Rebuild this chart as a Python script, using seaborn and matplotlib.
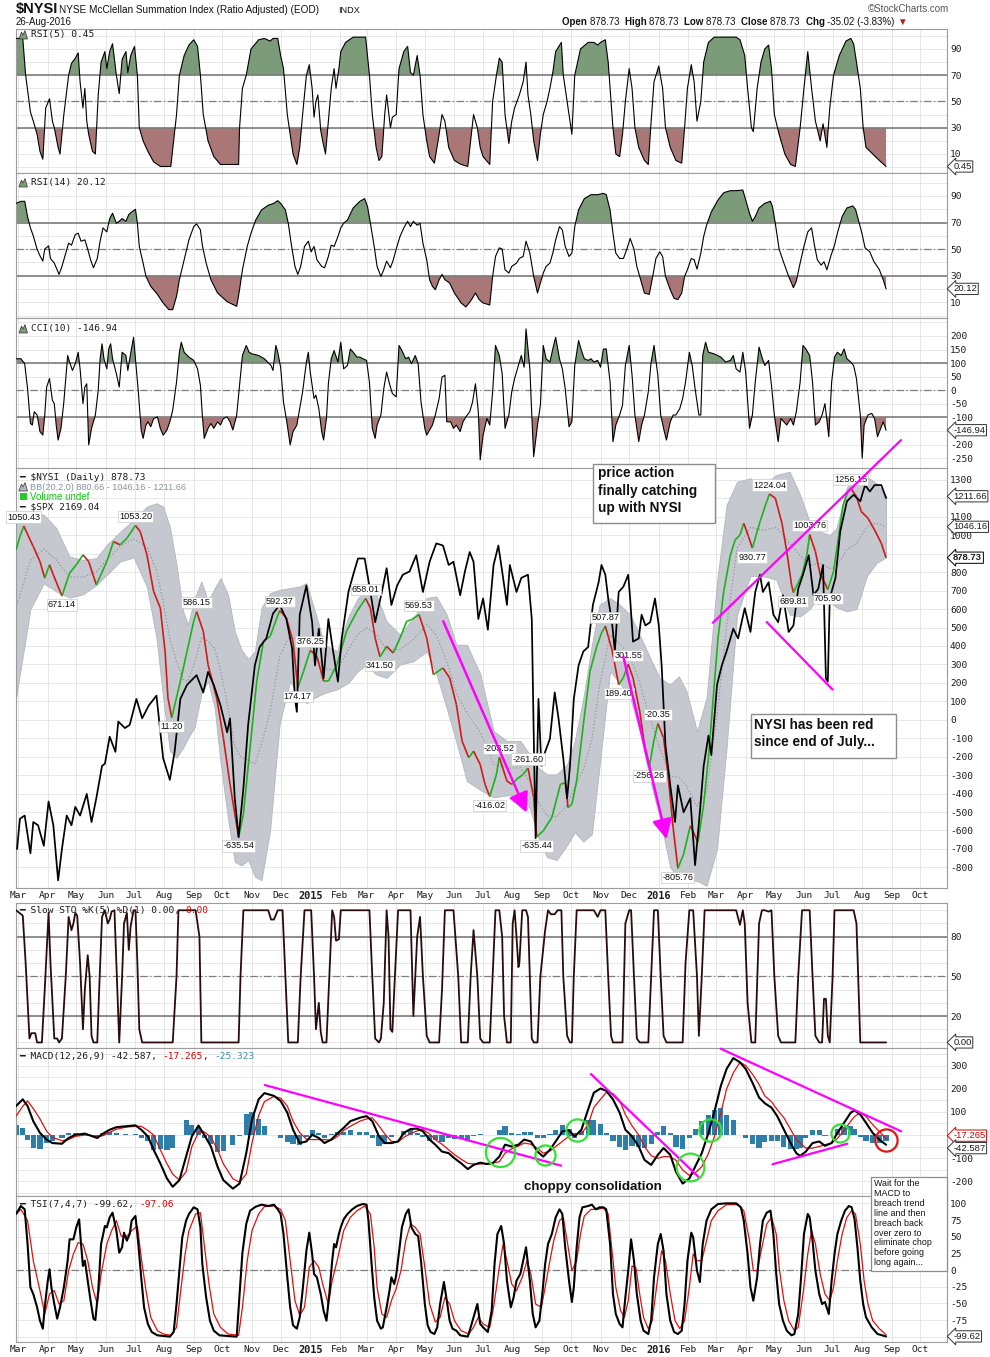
import numpy as np
import pandas as pd
import matplotlib
matplotlib.use("Agg")
import matplotlib.pyplot as plt
import matplotlib.dates as mdates
from matplotlib.collections import LineCollection
from matplotlib.patches import Rectangle, Polygon
import seaborn as sns

# ---------------------------------------------------------------
# DATA  (time = calendar days counted from 1 Mar 2014)
# ---------------------------------------------------------------
nysi_day = [-2, 2, 6, 16, 23, 28, 33, 37, 46, 54,
            61, 68, 74, 82, 86, 93, 100, 107, 114, 123,
            128, 135, 142, 149, 154, 157, 161, 170, 177, 184,
            187, 194, 199, 208, 215, 222, 231, 236, 243, 250,
            257, 264, 271, 274, 281, 288, 293, 299, 306, 313,
            320, 325, 334, 344, 355, 364, 369, 374, 379, 386,
            393, 400, 407, 412, 420, 428, 435, 445, 452, 459,
            465, 472, 477, 484, 489, 494, 501, 504, 512, 517,
            522, 529, 534, 540, 543, 550, 559, 568, 573, 576,
            580, 585, 592, 599, 606, 611, 615, 622, 629, 634,
            639, 644, 651, 657, 661, 666, 670, 676, 681, 686,
            691, 697, 704, 709, 712, 718, 723, 728, 733, 739,
            746, 751, 756, 760, 765, 769, 777, 784, 787, 793,
            800, 805, 810, 812, 821, 826, 829, 835, 840, 845,
            848, 854, 859, 864, 869, 872, 878, 883, 890, 897,
            904, 909]
nysi_val = [921, 993, 1050.43, 939, 858, 768, 840, 786, 671.14, 795,
            840, 894, 858, 732, 777, 858, 966, 948, 984, 1053.20,
            1020, 894, 696, 606, 371, 119, 11.20, 209, 371, 534,
            586.15, 480, 299, 119, -97, -350, -635.54, -512, -152, 209,
            425, 452, 552, 592.37, 552, 425, 174.17, 263, 376.25, 344,
            209, 209, 299, 480, 588, 658.01, 606, 443, 341.50, 398,
            362, 443, 534, 543, 569.53, 443, 245, 281, 227, 83,
            -115, -206, -170, -242, -350, -416.02, -296, -203.52, -332, -350,
            -323, -296, -261.60, -422, -635.44, -602, -530, -350, -341, -476,
            -458, -332, -25, 263, 398, 470, 507.87, 380, 189.40, 230,
            301.55, 227, 47, -170, -256.26, -110, -20.35, -97, -314, -584,
            -805.76, -728, -575, -629, -665, -458, -206, 119, 443, 696,
            894, 975, 1002, 1065, 993, 930.77, 1074, 1183, 1224.04, 1201,
            1065, 912, 732, 689.81, 786, 894, 1003.76, 912, 786, 741,
            705.90, 804, 984, 1165, 1237, 1256.15, 1210, 1129, 1093, 1029,
            957, 878.73]

# labelled NYSI extremes: 'a' = label above, 'b' = label below
lab_day = [6, 46, 123, 161, 187, 231, 274, 306, 293, 364, 379, 420, 494, 504,
           534, 543, 615, 639, 629, 670, 661, 691, 769, 787, 829, 812, 848, 872]
lab_val = [1050.43, 671.14, 1053.20, 11.20, 586.15, -635.54, 592.37, 376.25,
           174.17, 658.01, 341.50, 569.53, -416.02, -203.52, -261.60, -635.44,
           507.87, 301.55, 189.40, -20.35, -256.26, -805.76, 930.77, 1224.04,
           1003.76, 689.81, 705.90, 1256.15]
lab_pos = ['a', 'b', 'a', 'b', 'a', 'b', 'a', 'a', 'b', 'a', 'b', 'a', 'b', 'a',
           'a', 'b', 'a', 'a', 'b', 'a', 'b', 'b', 'b', 'a', 'a', 'b', 'b', 'a']

spx_day = [-1, 2, 7, 13, 16, 21, 27, 32, 37, 42,
           46, 51, 56, 60, 65, 72, 77, 82, 88, 91,
           96, 102, 105, 112, 117, 124, 130, 137, 145, 152,
           159, 164, 170, 177, 187, 194, 199, 205, 212, 219,
           222, 227, 231, 236, 241, 248, 253, 260, 267, 274,
           281, 287, 290, 292, 295, 302, 308, 311, 315, 320,
           325, 330, 335, 339, 346, 351, 356, 363, 369, 374,
           381, 386, 391, 397, 403, 410, 417, 424, 431, 438,
           445, 451, 456, 463, 468, 473, 477, 482, 487, 492,
           498, 503, 507, 512, 515, 522, 527, 534, 538, 540,
           542, 545, 548, 552, 557, 562, 566, 571, 575, 578,
           582, 587, 592, 597, 602, 608, 611, 615, 618, 622,
           625, 629, 634, 639, 641, 644, 650, 653, 657, 662,
           667, 671, 674, 678, 683, 688, 691, 697, 704, 709,
           714, 718, 723, 726, 732, 737, 742, 749, 754, 761,
           767, 772, 777, 780, 786, 791, 796, 801, 807, 812,
           817, 822, 828, 833, 838, 843, 846, 848, 850, 856,
           861, 868, 875, 882, 887, 892, 897, 904, 909]
spx_val = [1844, 1872, 1875, 1840, 1869, 1866, 1847, 1888, 1866, 1815,
           1844, 1875, 1866, 1883, 1875, 1895, 1869, 1891, 1921, 1923,
           1948, 1934, 1962, 1956, 1959, 1983, 1965, 1977, 1986, 1928,
           1908, 1934, 1983, 1996, 2005, 1989, 2008, 1996, 1977, 1952,
           1965, 1891, 1855, 1900, 1959, 2014, 2031, 2039, 2062, 2070,
           2057, 2030, 1983, 1971, 2061, 2088, 2054, 2014, 2048, 2002,
           2057, 2027, 1999, 2039, 2082, 2098, 2113, 2113, 2082, 2054,
           2082, 2104, 2070, 2088, 2098, 2101, 2116, 2082, 2110, 2127,
           2125, 2107, 2110, 2079, 2101, 2119, 2110, 2057, 2076, 2047,
           2107, 2125, 2101, 2070, 2107, 2082, 2095, 2098, 2057, 1952,
           1854, 1983, 1921, 1934, 1946, 1989, 1965, 1928, 1891, 1921,
           1983, 2014, 2027, 2031, 2070, 2091, 2107, 2098, 2076, 2054,
           2027, 2082, 2087, 2098, 2076, 2036, 2039, 2061, 2051, 2054,
           2076, 2051, 2014, 1940, 1903, 1869, 1903, 1878, 1891, 1829,
           1878, 1921, 1949, 1931, 1996, 2014, 2027, 2048, 2039, 2067,
           2045, 2082, 2098, 2082, 2091, 2061, 2054, 2079, 2045, 2051,
           2085, 2098, 2116, 2079, 2085, 2107, 2002, 1999, 2076, 2095,
           2138, 2166, 2172, 2166, 2181, 2175, 2181, 2181, 2169.04]

bb_day = [-2, 13, 27, 40, 54, 68, 82, 93, 107, 121,
          135, 145, 152, 159, 166, 173, 178, 185, 192, 199,
          206, 212, 220, 227, 234, 241, 248, 255, 264, 274,
          285, 295, 302, 311, 321, 334, 346, 356, 365, 375,
          386, 400, 414, 428, 438, 449, 459, 470, 484, 498,
          512, 526, 536, 545, 554, 564, 575, 583, 592, 601,
          609, 620, 630, 641, 651, 662, 672, 683, 692, 700,
          711, 721, 732, 742, 753, 767, 780, 794, 808, 819,
          829, 840, 850, 857, 868, 878, 889, 899, 909]
bb_upper = [1093, 1129, 1111, 1040, 885, 867, 876, 948, 1020, 1083,
            1156, 1174, 1156, 1047, 840, 588, 516, 660, 750, 642,
            714, 768, 678, 480, 380, 330, 371, 606, 687, 705,
            714, 723, 741, 588, 407, 371, 560, 660, 700, 680,
            534, 461, 552, 660, 669, 570, 407, 407, 250, -61,
            -115, -115, -188, -260, -296, -296, -242, -115, 119, 407,
            624, 660, 624, 570, 461, 335, 227, 191, 236, 155,
            -61, 119, 750, 1165, 1291, 1309, 1273, 1327, 1345, 1219,
            1074, 1020, 1002, 1038, 1260, 1309, 1318, 1282, 1211.66]
bb_lower = [119, 600, 740, 696, 662, 680, 730, 786, 858, 880,
            720, 443, 120, -170, -206, -150, -100, -40, 140, 210,
            60, -230, -540, -770, -790, -760, -850, -870, -600, -20,
            209, 119, 90, 120, 145, 165, 200, 265, 299, 245,
            227, 299, 317, 371, 250, 60, -120, -332, -380, -420,
            -410, -404, -480, -640, -745, -760, -680, -610, -660, -620,
            -250, 263, 200, 120, -60, -330, -530, -800, -860, -873,
            -873, -900, -700, -150, 570, 780, 780, 760, 570, 560,
            600, 680, 640, 610, 588, 600, 780, 850, 880.66]

rsi5_day = [-2, 5, 8, 13, 16, 20, 23, 26, 29, 33,
            36, 38, 42, 44, 48, 53, 56, 60, 63, 65,
            68, 70, 72, 74, 78, 81, 84, 87, 91, 93,
            96, 99, 103, 106, 109, 113, 115, 118, 122, 125,
            127, 131, 136, 142, 149, 160, 166, 169, 174, 179,
            184, 188, 191, 194, 199, 205, 212, 231, 232, 235,
            239, 244, 252, 258, 264, 267, 272, 275, 278, 282,
            285, 288, 292, 295, 298, 302, 305, 308, 310, 312,
            314, 317, 319, 322, 325, 328, 331, 333, 336, 338,
            343, 351, 364, 368, 371, 375, 378, 381, 384, 386,
            390, 392, 396, 399, 404, 408, 411, 414, 418, 421,
            424, 428, 431, 436, 441, 444, 447, 451, 457, 464,
            471, 474, 477, 481, 484, 487, 494, 497, 501, 504,
            507, 510, 514, 517, 520, 525, 529, 532, 534, 537,
            540, 544, 547, 550, 554, 557, 560, 563, 569, 571,
            575, 580, 583, 589, 597, 603, 607, 610, 615, 618,
            621, 623, 626, 630, 633, 636, 640, 643, 646, 650,
            656, 660, 663, 666, 671, 675, 678, 683, 689, 695,
            698, 701, 705, 708, 711, 715, 718, 723, 729, 752,
            756, 761, 764, 768, 770, 774, 778, 782, 786, 789,
            792, 797, 803, 809, 814, 819, 823, 827, 831, 835,
            840, 843, 847, 850, 854, 860, 867, 872, 875, 878,
            882, 885, 888, 895, 902, 909]
rsi5_val = [98, 98, 70, 42, 35, 25, 12, 6, 45, 52,
            35, 30, 15, 10, 40, 70, 79, 83, 87, 65,
            45, 60, 35, 25, 12, 10, 55, 80, 88, 75,
            88, 94, 70, 56, 82, 88, 72, 85, 92, 70,
            30, 20, 12, 4, 0.5, 0.5, 40, 70, 85, 93,
            97, 92, 70, 40, 20, 8, 2, 2, 30, 60,
            70, 90, 97, 98, 96, 98, 98, 85, 75, 40,
            25, 10, 2, 15, 40, 70, 78, 60, 38, 50,
            55, 28, 20, 10, 35, 60, 75, 60, 75, 88,
            95, 99, 99, 70, 40, 15, 5, 8, 40, 55,
            30, 38, 40, 75, 88, 92, 72, 70, 85, 70,
            40, 20, 8, 3, 25, 40, 35, 15, 5, 2,
            0.5, 20, 40, 30, 15, 8, 2, 50, 70, 83,
            80, 40, 18, 35, 45, 55, 65, 80, 55, 40,
            20, 5, 25, 40, 50, 60, 72, 88, 95, 70,
            50, 25, 70, 90, 95, 95, 93, 95, 97, 80,
            50, 30, 10, 8, 25, 50, 75, 60, 30, 15,
            5, 2, 35, 65, 77, 60, 30, 15, 5, 3,
            30, 60, 78, 65, 35, 50, 80, 95, 99, 99,
            97, 85, 60, 30, 27, 60, 80, 90, 93, 75,
            40, 25, 10, 2, 0.5, 30, 60, 88, 60, 35,
            20, 33, 15, 45, 70, 85, 96, 98, 94, 80,
            60, 30, 15, 10, 5, 0.45]

rsi14_day = [-2, 3, 7, 10, 13, 16, 20, 23, 26, 28,
             32, 34, 38, 43, 46, 50, 53, 56, 60, 63,
             66, 70, 73, 76, 79, 83, 86, 89, 93, 96,
             99, 103, 106, 109, 113, 116, 119, 123, 125, 127,
             131, 134, 139, 146, 152, 158, 162, 166, 169, 174,
             179, 184, 187, 191, 193, 197, 202, 209, 219, 229,
             232, 235, 240, 244, 249, 255, 262, 268, 272, 275,
             280, 283, 286, 290, 293, 296, 300, 304, 307, 310,
             313, 318, 321, 325, 328, 331, 335, 338, 341, 345,
             351, 358, 363, 366, 369, 373, 376, 380, 383, 386,
             390, 393, 396, 400, 404, 408, 411, 414, 418, 421,
             424, 428, 431, 434, 437, 441, 444, 447, 452, 457,
             464, 469, 474, 479, 483, 487, 494, 497, 500, 504,
             507, 510, 514, 517, 522, 525, 529, 532, 536, 540,
             544, 547, 550, 553, 557, 560, 563, 567, 570, 573,
             577, 580, 583, 587, 593, 600, 607, 613, 616, 620,
             623, 626, 630, 634, 638, 641, 645, 648, 652, 656,
             661, 664, 668, 672, 675, 678, 683, 687, 691, 695,
             698, 701, 705, 708, 711, 715, 718, 721, 726, 733,
             739, 746, 752, 759, 762, 766, 769, 772, 776, 782,
             788, 790, 793, 797, 802, 807, 812, 815, 819, 823,
             827, 831, 834, 837, 841, 844, 847, 851, 855, 858,
             863, 868, 874, 877, 880, 884, 887, 892, 896, 902,
             906, 909]
rsi14_val = [84.5, 86, 86, 74.5, 66, 60, 50, 45, 41, 50,
             52.5, 43, 39.5, 31, 37, 47, 54.5, 53, 61, 62,
             56, 57, 50, 42, 36, 43, 56, 66, 63, 73,
             77, 69.5, 71, 73, 71, 76, 78, 80, 69.5, 52,
             39.5, 29.5, 22, 16, 9.5, 4.5, 4.5, 14.5, 27, 42,
             57, 67, 69, 64.5, 53, 39.5, 27, 17, 10.5, 7,
             19.5, 34.5, 52, 62, 72, 79.5, 83, 84.5, 86.5, 84.5,
             79.5, 69.5, 54.5, 37, 31, 37, 52, 56, 48, 52,
             42, 37, 36, 44.5, 53, 52, 59.5, 66, 69.5, 72,
             81, 86, 88, 82, 69.5, 52, 37, 29.5, 34.5, 41,
             36, 42, 50, 59.5, 66, 71, 67, 71, 68, 69.5,
             54.5, 42, 27, 22, 19.5, 27, 31, 27, 24.5, 17,
             9.5, 6.5, 11, 17, 12, 9.5, 8, 29.5, 44.5, 51,
             50, 34.5, 32, 37, 39.5, 43, 44.5, 56, 47, 29.5,
             17, 24.5, 32, 37, 39.5, 47, 57, 67, 64.5, 52,
             44.5, 47, 67, 79.5, 88, 91, 91, 92, 91, 79.5,
             62, 47, 43, 43, 51, 58, 50, 37, 27, 17,
             16, 27, 43, 48, 44.5, 29.5, 19.5, 13, 12, 17,
             29.5, 34.5, 43, 42, 35, 47, 59.5, 68, 78, 87,
             92.5, 94, 94, 94.5, 87, 77, 71, 74.5, 81, 84.5,
             86, 82, 69.5, 50, 39.5, 29.5, 21, 26, 39.5, 52,
             63, 66, 53, 42, 38, 40.5, 34.5, 44.5, 53, 62,
             74.5, 81, 82.5, 80, 72, 61, 51, 48, 41, 34.5,
             27, 20.12]

cci_day = [-2, 3, 7, 10, 13, 15, 17, 20, 23, 26,
           28, 30, 33, 36, 38, 40, 42, 45, 48, 52,
           54, 57, 60, 63, 65, 68, 70, 72, 74, 77,
           79, 81, 84, 86, 88, 90, 93, 95, 97, 99,
           103, 106, 109, 113, 115, 117, 120, 121, 123, 126,
           129, 131, 134, 136, 139, 142, 146, 149, 152, 156,
           159, 162, 166, 169, 171, 174, 179, 184, 188, 191,
           193, 195, 199, 202, 205, 209, 212, 215, 219, 222,
           225, 229, 232, 235, 239, 242, 245, 252, 258, 265,
           267, 270, 272, 275, 278, 282, 285, 288, 292, 295,
           298, 302, 304, 306, 310, 312, 315, 318, 320, 323,
           325, 328, 331, 335, 338, 341, 345, 348, 351, 355,
           358, 361, 365, 368, 371, 374, 376, 380, 383, 386,
           389, 392, 396, 399, 402, 406, 409, 412, 416, 419,
           422, 426, 428, 431, 434, 437, 441, 444, 447, 449,
           453, 456, 459, 463, 466, 469, 473, 476, 479, 482,
           484, 487, 491, 494, 497, 500, 504, 507, 510, 514,
           517, 520, 524, 527, 530, 532, 536, 538, 540, 544,
           547, 550, 553, 557, 560, 563, 567, 570, 573, 577,
           580, 583, 587, 590, 593, 597, 600, 603, 607, 610,
           613, 616, 620, 623, 626, 630, 633, 636, 640, 643,
           646, 650, 653, 656, 660, 663, 666, 670, 673, 676,
           679, 683, 686, 689, 693, 696, 699, 703, 706, 709,
           713, 715, 717, 720, 723, 729, 736, 741, 746, 749,
           752, 756, 759, 762, 766, 769, 772, 776, 779, 782,
           786, 789, 792, 796, 799, 802, 805, 809, 812, 815,
           819, 822, 825, 829, 832, 835, 839, 842, 845, 849,
           852, 855, 858, 862, 865, 868, 872, 875, 878, 882,
           884, 886, 890, 894, 897, 900, 904, 906, 909]
cci_val = [116, 116, 98, 6, -122, -128, -79, -91, -152, -165,
           -91, 12, 43, -37, -49, -128, -183, -140, -43, 128,
           104, 73, 98, 140, 79, -49, 12, 24, -201, -140,
           -116, -91, 0, 116, 171, 116, 79, 152, 171, 116,
           61, 12, 140, 128, 73, 116, 177, 195, 116, -6,
           -146, -177, -128, -116, -134, -104, -98, -140, -165, -146,
           -116, -73, 30, 140, 177, 140, 122, 110, 79, 18,
           -91, -177, -140, -122, -140, -116, -128, -104, -98, -116,
           -146, -91, 18, 128, 165, 140, 134, 128, 116, 91,
           73, 165, 140, 85, -43, -128, -201, -152, -128, -67,
           -6, 104, 140, 67, -30, -18, -67, -152, -183, -104,
           24, 116, 146, 104, 177, 79, 91, 152, 140, 122,
           122, 116, 110, 30, -140, -177, -128, -91, 6, 67,
           24, -12, -24, 165, 146, 116, 122, 98, 128, 98,
           -43, -140, -165, -146, -128, -91, -30, 49, 55, -116,
           -116, -140, -128, -152, -116, -98, -79, -43, 24, -79,
           -256, -165, -104, -128, -6, 165, 128, 61, -140, -91,
           -6, 43, 91, 128, 85, 226, 79, -91, -244, -128,
           -55, 165, 116, 104, 152, 195, 116, 79, 6, -134,
           -116, 91, 183, 146, 116, 110, 116, 104, 110, 85,
           152, 152, 30, -189, -128, -91, -55, 91, 165, 55,
           -91, -189, -128, -91, -6, 104, 165, 55, -91, -140,
           -183, -116, -91, -91, -67, -30, 30, 140, 91, 6,
           -91, -91, 128, 177, 140, 134, 122, 104, 110, 128,
           79, 67, 140, 67, -140, -91, 30, 159, 122, 91,
           110, 18, -91, -189, -104, -116, -128, -104, -128, -79,
           30, 165, 152, 128, 30, -128, -116, -91, -49, -171,
           30, 122, 140, 128, 152, 116, 104, 91, 43, -91,
           -250, -128, -91, -85, -104, -171, -134, -116, -146.94]

sto_day = [-2, 5, 8, 12, 14, 18, 20, 25, 28, 32,
           34, 38, 41, 43, 46, 50, 53, 56, 58, 60,
           62, 65, 68, 70, 73, 75, 77, 79, 83, 85,
           88, 91, 94, 96, 98, 101, 103, 106, 109, 111,
           114, 116, 118, 121, 123, 125, 127, 130, 162, 166,
           168, 186, 190, 192, 231, 233, 236, 262, 265, 268,
           272, 277, 280, 283, 293, 296, 300, 307, 310, 312,
           315, 317, 319, 323, 326, 329, 331, 333, 336, 338,
           368, 371, 374, 378, 380, 383, 386, 388, 390, 392,
           394, 398, 411, 414, 418, 421, 424, 428, 431, 441,
           444, 447, 456, 461, 464, 471, 474, 477, 481, 484,
           487, 494, 497, 500, 504, 507, 509, 512, 516, 518,
           520, 522, 524, 525, 528, 532, 534, 536, 538, 540,
           544, 547, 552, 555, 558, 562, 565, 569, 571, 575,
           578, 580, 582, 585, 603, 607, 610, 615, 618, 621,
           623, 633, 636, 640, 642, 645, 648, 651, 660, 663,
           666, 670, 673, 676, 679, 696, 699, 703, 707, 711,
           713, 716, 719, 752, 756, 759, 761, 764, 768, 772,
           776, 779, 782, 786, 789, 792, 796, 799, 814, 817,
           821, 829, 832, 835, 839, 842, 844, 846, 848, 850,
           853, 855, 875, 878, 882, 909]
sto_val = [100, 96, 60, 3, 7, 7, 0, 0, 40, 98,
           60, 3, 3, 0, 3, 50, 95, 85, 90, 98,
           96, 60, 10, 40, 66, 50, 5, 0, 0, 40,
           95, 100, 90, 93, 99, 100, 60, 0, 50, 90,
           98, 70, 88, 100, 100, 60, 10, 0, 0, 50,
           100, 100, 80, 0, 0, 50, 100, 100, 93, 93,
           100, 100, 50, 0, 0, 50, 100, 100, 50, 10,
           30, 8, 0, 0, 50, 100, 95, 77, 78, 100,
           100, 50, 3, 0, 3, 30, 100, 80, 10, 8,
           40, 100, 100, 20, 80, 95, 50, 5, 0, 0,
           40, 100, 100, 50, 0, 0, 50, 85, 50, 3,
           0, 0, 50, 100, 100, 80, 20, 0, 0, 90,
           100, 80, 57, 60, 100, 100, 95, 50, 3, 0,
           0, 50, 85, 100, 97, 97, 100, 100, 50, 5,
           0, 0, 50, 100, 100, 95, 100, 100, 50, 5,
           0, 0, 90, 100, 100, 50, 3, 0, 0, 50,
           100, 100, 50, 5, 0, 0, 60, 100, 100, 50,
           5, 50, 100, 100, 89, 100, 90, 30, 0, 0,
           90, 100, 100, 99, 100, 50, 5, 0, 0, 50,
           100, 100, 50, 5, 0, 0, 33, 33, 5, 0,
           50, 100, 100, 90, 0, 0]

macd_day = [-2, 5, 10, 16, 23, 30, 36, 46, 53, 60,
            70, 76, 83, 89, 96, 103, 113, 123, 129, 136,
            142, 149, 156, 162, 169, 176, 182, 189, 195, 202,
            209, 215, 225, 232, 239, 245, 252, 258, 268, 275,
            282, 288, 295, 302, 308, 315, 321, 328, 335, 341,
            348, 358, 365, 371, 378, 384, 391, 398, 404, 411,
            418, 424, 431, 437, 444, 451, 457, 464, 471, 477,
            484, 491, 497, 504, 510, 517, 524, 530, 537, 544,
            550, 557, 563, 570, 577, 583, 590, 597, 603, 610,
            616, 623, 630, 636, 643, 650, 656, 663, 670, 676,
            683, 689, 696, 703, 709, 716, 723, 729, 736, 742,
            749, 756, 762, 769, 776, 782, 789, 795, 802, 809,
            815, 819, 825, 832, 839, 845, 852, 858, 865, 872,
            876, 882, 888, 895, 902, 909]
macd_val = [126, 155, 126, 60, 9, -20, -35, -38, -13, 1,
            6, -3, -13, 6, 23, 34, 38, 42, 23, -6,
            -64, -123, -189, -225, -196, -94, -6, 41, 1, -50,
            -138, -196, -233, -211, -79, 67, 155, 182, 170, 148,
            97, 23, -35, -28, 1, -13, -35, -20, 9, 31,
            60, 75, 82, 60, -6, -35, -35, -28, 9, 26,
            28, 16, -20, -42, -72, -79, -101, -123, -148, -130,
            -120, -126, -123, -94, -42, -50, -42, -20, -28, -72,
            -94, -64, -28, 16, 20, -6, 23, 111, 184, 202,
            192, 155, 97, 23, -6, -50, -108, -130, -86, -57,
            -86, -160, -211, -189, -138, -79, 9, 97, 214, 287,
            334, 316, 287, 228, 163, 138, 119, 82, 23, -35,
            -79, -91, -72, -35, -28, -47, -35, 9, 53, 97,
            107, 89, 53, 9, -20, -42.587]
macd_sig = [82, 125, 148, 115, 70, 16, -10, -25, -20, -6,
            0, -2, -5, -3, 12, 25, 34, 38, 38, 20,
            0, -64, -125, -170, -196, -160, -50, 10, 14, -10,
            -64, -125, -190, -205, -170, -35, 85, 145, 168, 160,
            126, 60, 10, -18, -20, -20, -20, -23, -5, 20,
            38, 60, 70, 75, 40, 5, -28, -30, -10, 6,
            18, 23, 5, -20, -40, -64, -85, -105, -123, -126,
            -126, -124, -122, -116, -79, -60, -48, -35, -40, -58,
            -79, -70, -50, -28, -5, 6, 6, 45, 120, 155,
            185, 180, 150, 89, 40, 0, -50, -90, -101, -94,
            -94, -110, -152, -175, -165, -138, -80, -10, 97, 200,
            270, 316, 302, 265, 220, 170, 145, 110, 75, 25,
            -20, -35, -57, -57, -50, -42, -35, -15, 20, 60,
            80, 97, 80, 45, 15, -17.265]

tsi_day = [-2, 3, 7, 10, 13, 16, 20, 23, 26, 28,
           31, 33, 35, 38, 41, 44, 48, 52, 54, 58,
           61, 64, 66, 68, 70, 73, 76, 79, 81, 84,
           87, 91, 93, 96, 99, 103, 106, 109, 111, 114,
           117, 119, 123, 126, 129, 132, 136, 140, 146, 159,
           163, 166, 169, 172, 176, 179, 184, 188, 191, 193,
           197, 201, 205, 211, 229, 232, 235, 239, 243, 249,
           255, 262, 268, 272, 275, 278, 282, 285, 288, 292,
           295, 298, 302, 305, 308, 310, 313, 317, 320, 323,
           326, 329, 331, 333, 336, 338, 341, 345, 350, 355,
           361, 365, 367, 370, 373, 376, 380, 382, 386, 389,
           391, 394, 396, 400, 402, 406, 409, 412, 416, 419,
           422, 426, 429, 432, 436, 439, 442, 446, 449, 452,
           455, 459, 463, 471, 474, 477, 481, 484, 487, 492,
           496, 499, 502, 506, 509, 512, 516, 519, 522, 526,
           529, 532, 536, 539, 542, 546, 549, 552, 555, 559,
           563, 567, 570, 573, 577, 580, 582, 585, 588, 591,
           597, 601, 605, 609, 613, 616, 620, 623, 626, 630,
           633, 636, 639, 642, 645, 648, 652, 655, 660, 663,
           666, 670, 673, 676, 679, 683, 687, 691, 695, 698,
           701, 705, 707, 711, 714, 717, 721, 726, 733, 742,
           752, 757, 760, 764, 767, 770, 774, 777, 780, 784,
           788, 791, 794, 797, 801, 805, 810, 813, 817, 820,
           823, 827, 829, 832, 835, 839, 842, 845, 849, 852,
           855, 858, 862, 866, 870, 873, 876, 879, 882, 885,
           888, 894, 900, 909]
tsi_val = [84, 96, 91, 39, -26, -36, -56, -76, -88, -56,
           -18, 1, -26, -51, -73, -56, -26, 14, 46, 46,
           64, 76, 39, 6, 14, -16, -46, -73, -75, -31,
           39, 66, 64, 79, 86, 59, 26, 34, 56, 44,
           54, 74, 81, 39, -11, -56, -81, -93, -98, -100,
           -93, -51, -1, 49, 74, 84, 94, 91, 64, 9,
           -41, -76, -91, -98, -100, -36, 26, 69, 89, 95,
           98, 96, 98, 91, 84, 54, -11, -56, -83, -88,
           -71, -31, 29, 56, 24, -6, -11, -36, -61, -76,
           -36, 14, 39, 34, 54, 64, 76, 84, 91, 96,
           99, 98, 74, 14, -41, -76, -88, -86, -56, -31,
           -11, -21, -8, 39, 64, 84, 91, 64, 54, 51,
           14, -51, -83, -93, -96, -86, -51, -18, -46, -76,
           -88, -91, -98, -100, -86, -71, -51, -81, -86, -93,
           -61, 9, 54, 66, 39, -16, -56, -41, -16, -6,
           14, 34, -16, -66, -86, -76, -36, 9, 39, 54,
           79, 91, 84, 34, -16, -48, -26, 34, 79, 94,
           96, 98, 91, 94, 94, 91, 39, -36, -66, -81,
           -86, -41, -1, 46, 14, -36, -76, -91, -96, -76,
           -11, 39, 54, 29, -36, -76, -93, -96, -91, -51,
           14, 56, 49, -1, -18, 39, 74, 91, 99, 100,
           100, 94, 74, 24, -26, -46, -11, 39, 74, 86,
           89, 54, -6, -51, -76, -91, -98, -96, -66, -11,
           54, 84, 79, 44, -1, -36, -51, -48, -66, -16,
           24, 54, 74, 89, 96, 94, 76, 34, -16, -51,
           -71, -86, -96, -99.62]

tsig_day = [-2, 3, 10, 16, 23, 28, 33, 38, 43, 48,
            53, 58, 63, 68, 73, 78, 83, 87, 93, 98,
            103, 108, 113, 119, 125, 129, 134, 139, 146, 152,
            160, 166, 170, 175, 179, 186, 191, 195, 200, 205,
            212, 220, 231, 235, 240, 245, 252, 258, 268, 275,
            280, 285, 290, 295, 300, 305, 310, 315, 319, 325,
            329, 335, 341, 348, 355, 363, 369, 373, 376, 381,
            386, 391, 396, 401, 406, 411, 416, 421, 426, 431,
            437, 442, 447, 452, 457, 464, 472, 477, 482, 487,
            494, 498, 504, 508, 512, 517, 522, 528, 533, 537,
            542, 548, 552, 557, 561, 567, 571, 575, 580, 585,
            589, 593, 600, 607, 613, 618, 622, 626, 631, 635,
            639, 643, 647, 651, 655, 660, 664, 670, 674, 678,
            683, 688, 693, 698, 703, 707, 711, 716, 721, 726,
            733, 742, 754, 760, 766, 770, 774, 779, 784, 789,
            794, 797, 802, 807, 813, 817, 822, 827, 831, 835,
            840, 845, 850, 854, 858, 863, 868, 873, 877, 882,
            886, 890, 895, 902, 909]
tsig_val = [84, 91, 74, 14, -31, -66, -36, -31, -51, -46,
            -1, 24, 41, 39, 14, -26, -51, -6, 39, 59,
            74, 51, 49, 59, 66, 19, -31, -71, -91, -96,
            -98, -86, -36, 24, 59, 84, 86, 39, -21, -66,
            -86, -96, -98, -56, 14, 59, 84, 95, 96, 91,
            74, 14, -46, -68, -56, 4, 14, 4, -21, -51,
            -16, 19, 59, 79, 89, 96, 84, 34, -26, -66,
            -71, -46, -28, -1, 44, 69, 64, 54, 4, -51,
            -78, -71, -41, -51, -76, -91, -96, -86, -71, -81,
            -86, -56, 4, 39, 14, -21, -31, -11, 14, -6,
            -51, -56, -26, 14, 44, 74, 79, 44, -1, 14,
            54, 81, 91, 91, 93, 84, 29, -26, -61, -71,
            -46, 6, 4, -36, -71, -88, -76, -11, 29, 14,
            -36, -76, -88, -76, -26, 24, 14, 14, 44, 74,
            89, 98, 98, 89, 44, -1, -1, 34, 69, 79,
            54, 4, -46, -76, -91, -86, -36, 24, 59, 39,
            -6, -36, -46, -26, 14, 54, 79, 89, 84, 39,
            -16, -51, -76, -88, -97.06]

for a, b in [(nysi_day, nysi_val), (spx_day, spx_val), (bb_day, bb_upper),
             (bb_day, bb_lower), (rsi5_day, rsi5_val), (rsi14_day, rsi14_val),
             (cci_day, cci_val), (sto_day, sto_val), (macd_day, macd_val),
             (macd_day, macd_sig), (tsi_day, tsi_val), (tsig_day, tsig_val),
             (lab_day, lab_val), (lab_day, lab_pos)]:
    assert len(a) == len(b), (len(a), len(b))

# ---------------------------------------------------------------
# STYLE
# ---------------------------------------------------------------
sns.set_theme(style="white")
MONO = ["DejaVu Sans Mono", "DejaVu Sans"]
SANS = ["Liberation Sans", "DejaVu Sans"]
plt.rcParams["font.family"] = MONO
plt.rcParams["axes.unicode_minus"] = False

W, H = 990, 1357
BASE = pd.Timestamp("2014-03-01")


def dt(days):
    return BASE + pd.to_timedelta(np.asarray(days, dtype=float), unit="D")


def dnum(d):
    return mdates.date2num(BASE + pd.to_timedelta(float(d), unit="D"))


XMIN, XMAX = dt([-2.1])[0], dt([972.8])[0]
months = pd.date_range("2014-03-01", "2016-10-01", freq="MS")
GRID = "#e3e3e3"
SPINE = "#9c9c9c"
TXT = "#1c1c1c"
GREEN_FILL = "#7b9b79"
RED_FILL = "#a97775"
REF = "#7d7d7d"
MAG = "#ff00ff"

fig = plt.figure(figsize=(W / 100, H / 100), dpi=100)
fig.patch.set_facecolor("white")


def panel(top, bottom):
    return fig.add_axes([16 / W, 1 - bottom / H, 931 / W, (bottom - top) / H])


def sline(ax, days, vals, color, lw, z=3):
    sns.lineplot(x=dt(days), y=np.asarray(vals, dtype=float), ax=ax, color=color,
                 linewidth=lw, estimator=None, sort=False, legend=False, zorder=z)


def finish(ax, ylim, ticks, grid, show_x=False):
    ax.set_xlim(XMIN, XMAX)
    ax.set_ylim(*ylim)
    for g in grid:
        ax.axhline(g, color=GRID, lw=0.6, zorder=0)
    for m in months:
        ax.axvline(m, color=GRID, lw=0.6, zorder=0)
    ax.yaxis.tick_right()
    ax.set_yticks(ticks)
    ax.set_yticklabels([str(t) for t in ticks])
    ax.tick_params(axis="y", length=0, pad=2.2, labelsize=6.8, labelcolor=TXT)
    ax.set_xticks(months)
    if show_x:
        ax.set_xticklabels([str(m.year) if m.month == 1 else m.strftime("%b") for m in months])
        ax.tick_params(axis="x", length=0, pad=2.0, labelsize=6.8, labelcolor=TXT)
        for lab in ax.get_xticklabels():
            if lab.get_text().isdigit():
                lab.set_fontweight("bold")
                lab.set_fontsize(7.4)
    else:
        ax.set_xticklabels([])
        ax.tick_params(axis="x", length=0)
    for s in ax.spines.values():
        s.set_color(SPINE)
        s.set_linewidth(0.8)
    ax.set_xlabel("")
    ax.set_ylabel("")


def tag(ax, v, text, color=TXT, bold=False, ec="#333333", dy=0.0):
    ax.annotate(text, xy=(1.0, v), xycoords=("axes fraction", "data"),
                xytext=(4.5, dy), textcoords="offset points", ha="left", va="center",
                fontsize=6.8, family=SANS, color=color,
                fontweight="bold" if bold else "normal",
                bbox=dict(boxstyle="larrow,pad=0.12", fc="white", ec=ec, lw=0.7),
                zorder=30, annotation_clip=False)


def osc(ax, days, vals, hi, lo, mid):
    x = dt(days)
    v = np.asarray(vals, dtype=float)
    ax.fill_between(x, v, hi, where=v >= hi, interpolate=True, color=GREEN_FILL, lw=0, zorder=1)
    ax.fill_between(x, v, lo, where=v <= lo, interpolate=True, color=RED_FILL, lw=0, zorder=1)
    ax.axhline(hi, color=REF, lw=1.2, zorder=1.5)
    ax.axhline(lo, color=REF, lw=1.2, zorder=1.5)
    ax.axhline(mid, color=REF, lw=0.9, ls=(0, (6, 2, 1, 2)), zorder=1.5)
    sline(ax, days, vals, "black", 0.8)


# ---------------- RSI(5) ----------------
ax_r5 = panel(29, 173)
osc(ax_r5, rsi5_day, rsi5_val, 70, 30, 50)
finish(ax_r5, (-4.5, 105.2), [10, 30, 50, 70, 90], range(0, 101, 10))
tag(ax_r5, 0.45, "0.45")

# ---------------- RSI(14) ----------------
ax_r14 = panel(173, 318)
osc(ax_r14, rsi14_day, rsi14_val, 70, 30, 50)
finish(ax_r14, (-1.8, 107.3), [10, 30, 50, 70, 90], range(0, 101, 10))
tag(ax_r14, 20.12, "20.12")

# ---------------- CCI(10) ----------------
ax_cci = panel(318, 468)
osc(ax_cci, cci_day, cci_val, 100, -100, 0)
finish(ax_cci, (-286, 266), [-250, -200, -100, -50, 0, 50, 100, 150, 200], range(-250, 251, 50))
tag(ax_cci, -146.94, "-146.94")

# ---------------- main price panel ----------------
ax_m = panel(468, 888)
bx = dt(bb_day)
up = np.asarray(bb_upper, dtype=float)
lo = np.asarray(bb_lower, dtype=float)
ax_m.fill_between(bx, lo, up, color="#c5c8ce", edgecolor="#b3b6bd", lw=0.6, zorder=1)
ax_m.plot(bx, (up + lo) / 2, color="#8f949c", lw=0.8, ls=(0, (1.2, 1.8)), zorder=2)

xn = np.array([dnum(d) for d in nysi_day])
yv = np.asarray(nysi_val, dtype=float)
segs = np.stack([np.column_stack([xn[:-1], yv[:-1]]), np.column_stack([xn[1:], yv[1:]])], axis=1)
cols = np.where(np.diff(yv) >= 0, "#1db21d", "#cf1b1b")
ax_m.add_collection(LineCollection(segs, colors=cols, linewidths=1.2, zorder=3))

ax2 = ax_m.twinx()
sline(ax2, spx_day, spx_val, "black", 1.25)
ax2.set_ylim(1807.9, 2196.8)
ax2.set_xlim(XMIN, XMAX)
ax2.set_yticks([])
ax2.tick_params(right=False, labelright=False)
for s in ax2.spines.values():
    s.set_visible(False)
ax2.set_ylabel("")

main_ticks = [-800, -700, -600, -500, -400, -300, -200, -100, 0, 100, 200, 300,
              400, 500, 600, 700, 800, 1000, 1100, 1300]
finish(ax_m, (-912, 1365), main_ticks, range(-800, 1301, 100), show_x=True)
tag(ax_m, 1211.66, "1211.66")
tag(ax_m, 1046.16, "1046.16")
tag(ax_m, 878.73, "878.73", bold=True, ec="black")

for d, v, p in zip(lab_day, lab_val, lab_pos):
    above = p == "a"
    ax2.annotate(f"{v:.2f}", xy=(dnum(d), v), xycoords=ax_m.transData,
                 xytext=(0, 3.2 if above else -3.2), textcoords="offset points",
                 ha="center", va="bottom" if above else "top", fontsize=6.6,
                 family=SANS, color="#111111",
                 bbox=dict(boxstyle="square,pad=0.12", fc="white", ec="#c9c9c9", lw=0.5),
                 zorder=8, annotation_clip=False)

# magenta annotation lines / arrows (days, NYSI units)
main_arrows = [((445.3, 534), (532.6, -503)), ((633.8, 344), (679.2, -647))]
main_lines = [((727.7, 526), (924.6, 1516)), ((784, 530), (853, 164))]
for (d0, v0), (d1, v1) in main_arrows:
    ax2.annotate("", xy=(dnum(d1), v1), xytext=(dnum(d0), v0),
                 xycoords=ax_m.transData, textcoords=ax_m.transData,
                 arrowprops=dict(arrowstyle="-|>,head_length=0.8,head_width=0.4",
                                 color=MAG, lw=1.8, shrinkA=0, shrinkB=0, mutation_scale=15),
                 zorder=9, annotation_clip=False)
for (d0, v0), (d1, v1) in main_lines:
    ax2.plot([dnum(d0), dnum(d1)], [v0, v1], transform=ax_m.transData, color=MAG,
             lw=1.6, clip_on=False, zorder=9)

# ---------------- Slow STO ----------------
ax_sto = panel(903, 1048)
ax_sto.axhline(80, color=REF, lw=1.2, zorder=1.5)
ax_sto.axhline(20, color=REF, lw=1.2, zorder=1.5)
ax_sto.axhline(50, color=REF, lw=0.9, ls=(0, (6, 2, 1, 2)), zorder=1.5)
sline(ax_sto, sto_day, sto_val, "#2a0c0c", 1.3)
finish(ax_sto, (-4.2, 105.5), [20, 50, 80], range(0, 101, 10))
tag(ax_sto, 0.0, "0.00")

# ---------------- MACD ----------------
ax_macd = panel(1048, 1196)
hist = np.asarray(macd_val, dtype=float) - np.asarray(macd_sig, dtype=float)
ax_macd.bar(dt(macd_day), hist, width=5.4, color="#2d7ea8", lw=0, zorder=1)
sline(ax_macd, macd_day, macd_sig, "#e01010", 0.9)
sline(ax_macd, macd_day, macd_val, "black", 1.5, z=4)
finish(ax_macd, (-265, 378), [-200, -100, 100, 200, 300], range(-250, 376, 50))
tag(ax_macd, -17.265, "-17.265", color="#d00000", ec="#cc0000", dy=2.4)
tag(ax_macd, -42.587, "-42.587", dy=-2.4)

macd_lines = [((258.5, 217), (568.7, -133)), ((600, 265), (712.6, -182)),
              ((735.8, 375), (924.8, 16)), ((790, -127), (868.4, -38))]
for (d0, v0), (d1, v1) in macd_lines:
    ax_macd.plot(dt([d0, d1]), [v0, v1], color=MAG, lw=1.6, clip_on=False, zorder=6)
green_marks = [(504.7, -74, 21), (551.8, -87, 14.5), (585.3, 22, 16),
               (703.7, -139, 20), (724.6, 22, 16), (860.7, 9, 13)]
for d, v, ms in green_marks:
    ax_macd.plot(dt([d]), [v], marker="o", ms=ms, mfc="none", mec="#35e035",
                 mew=1.6, ls="none", zorder=7, clip_on=False)
ax_macd.plot(dt([908.9]), [-22], marker="o", ms=16, mfc="none", mec="#e01515",
             mew=1.6, ls="none", zorder=7, clip_on=False)

# ---------------- TSI ----------------
ax_tsi = panel(1196, 1342)
ax_tsi.axhline(0, color=REF, lw=0.9, ls=(0, (6, 2, 1, 2)), zorder=1.5)
sline(ax_tsi, tsig_day, tsig_val, "#e01010", 0.9)
sline(ax_tsi, tsi_day, tsi_val, "black", 1.5, z=4)
finish(ax_tsi, (-108, 111), [-75, -50, -25, 0, 25, 50, 75, 100], range(-100, 101, 25), show_x=True)
tag(ax_tsi, -99.62, "-99.62")

# ---------------------------------------------------------------
# TEXT OVERLAY (pixel coordinates)
# ---------------------------------------------------------------
axf = fig.add_axes([0, 0, 1, 1], zorder=50)
axf.set_xlim(0, W)
axf.set_ylim(H, 0)
axf.axis("off")


def chain(x, y, parts, size, family=SANS):
    t = axf.text(x, y, parts[0][0], color=parts[0][1], fontweight=parts[0][2],
                 fontsize=size, family=family, va="baseline", ha="left")
    for txt, col, wt in parts[1:]:
        t = axf.annotate(txt, xy=(1, 0), xycoords=t, va="bottom", ha="left",
                         color=col, fontweight=wt, fontsize=size, family=family)
    return t


axf.text(16, 13, "$NYSI", fontsize=10.5, fontweight="bold", family=SANS, va="baseline", color="#111")
axf.text(59, 13, "NYSE McClellan Summation Index (Ratio Adjusted) (EOD)", fontsize=7.2,
         family=SANS, va="baseline", color="#111")
axf.text(338, 13, "INDX", fontsize=6.6, family=SANS, va="baseline", color="#111")
axf.text(16, 25, "26-Aug-2016", fontsize=6.9, family=SANS, va="baseline", color="#111")
axf.text(949, 12, "\u00a9StockCharts.com", fontsize=7, family=SANS, va="baseline",
         ha="right", color="#555555")
chain(562, 25, [("Open ", "#111", "bold"), ("878.73  ", "#111", "normal"),
                ("High ", "#111", "bold"), ("878.73  ", "#111", "normal"),
                ("Low ", "#111", "bold"), ("878.73  ", "#111", "normal"),
                ("Close ", "#111", "bold"), ("878.73  ", "#111", "normal"),
                ("Chg ", "#111", "bold"), ("-35.02 (-3.83%) ", "#111", "normal"),
                ("\u25bc", "#c01818", "normal")], 7.0)


def icon(yc, fc):
    axf.add_patch(Polygon([[19, yc + 4], [21.5, yc - 3], [23, yc], [25, yc - 4.5], [27.5, yc + 4]],
                          closed=True, fc=fc, ec="#333333", lw=0.5))


icon(35, GREEN_FILL)
axf.text(31, 35, "RSI(5) 0.45", fontsize=6.8, va="center", color=TXT)
icon(183, GREEN_FILL)
axf.text(31, 183, "RSI(14) 20.12", fontsize=6.8, va="center", color=TXT)
icon(329, GREEN_FILL)
axf.text(31, 329, "CCI(10) -146.94", fontsize=6.8, va="center", color=TXT)

axf.text(19, 477, "\u2501 $NYSI (Daily) 878.73", fontsize=6.8, va="center", color=TXT)
icon(487, "#b4b8bf")
axf.text(29.5, 487, "BB(20,2.0) 880.66 - 1046.16 - 1211.66", fontsize=6.6, family=SANS,
         va="center", color="#8793a0")
axf.add_patch(Rectangle((20, 493), 7, 7, fc="#22cc22", ec="none"))
axf.text(29.5, 497, "Volume undef", fontsize=7, family=SANS, va="center", color="#11cc11")
axf.text(19, 507, "\u2501 $SPX 2169.04", fontsize=6.8, va="center", color=TXT)

chain(19, 913, [("\u2501 Slow STO %K(5) %D(1) 0.00, ", TXT, "normal"), ("0.00", "#e00000", "normal")],
      6.8, family=MONO)
chain(19, 1059, [("\u2501 MACD(12,26,9) -42.587, ", TXT, "normal"), ("-17.265", "#e00000", "normal"),
                 (", ", TXT, "normal"), ("-25.323", "#3f8fae", "normal")], 6.8, family=MONO)
chain(19, 1207, [("\u2501 TSI(7,4,7) -99.62, ", TXT, "normal"), ("-97.06", "#e00000", "normal")],
      6.8, family=MONO)

# comment boxes
axf.add_patch(Rectangle((593, 464), 122, 59, fc="white", ec="#8c8c8c", lw=1.0))
axf.text(597.5, 466.5, "price action\nfinally catching\nup with NYSI", va="top", ha="left",
         fontsize=9.8, fontweight="bold", family=SANS, linespacing=1.3, color="#111")
axf.add_patch(Rectangle((750.5, 714), 145, 43.5, fc="white", ec="#8c8c8c", lw=1.0))
axf.text(753.5, 718, "NYSI has been red\nsince end of July...", va="top", ha="left",
         fontsize=9.8, fontweight="bold", family=SANS, linespacing=1.3, color="#111")
axf.text(593, 1190, "choppy consolidation", va="baseline", ha="center", fontsize=9.6,
         fontweight="bold", family=SANS, color="#111")
axf.add_patch(Rectangle((871, 1177), 76, 94, fc="white", ec="#8c8c8c", lw=0.9))
axf.text(873.5, 1179, "Wait for the\nMACD to\nbreach trend\nline and then\nbreach back\nover zero to\n"
         "eliminate chop\nbefore going\nlong again...", va="top", ha="left", fontsize=6.4,
         family=SANS, linespacing=1.13, color="#111")

fig.savefig("out.png", dpi=100, facecolor="white")
